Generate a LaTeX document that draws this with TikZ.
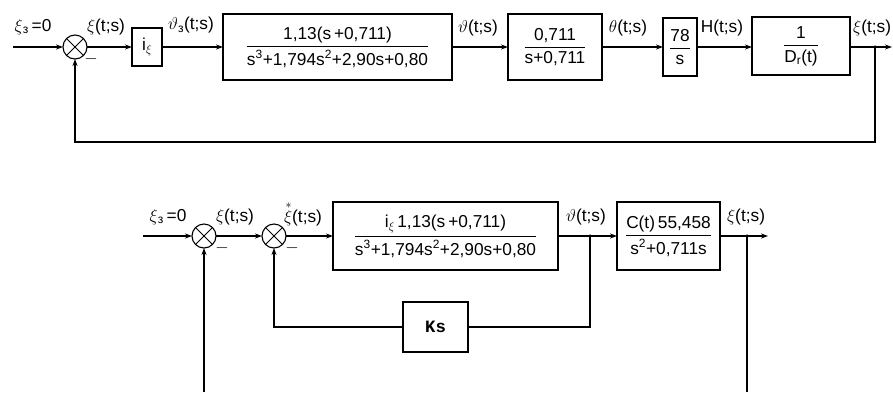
\documentclass[tikz,border=0pt]{standalone}
\usepackage{fontspec}
\setmainfont{Liberation Sans}
\newfontfamily\monof{Liberation Mono}
\usetikzlibrary{arrows.meta}
\newcommand{\myfrac}[2]{$\displaystyle{\mbox{#1}\above1.1pt\mbox{#2}}$}
\newcommand{\ixi}{i\raisebox{-3.5pt}{\fontsize{12.5}{13}\selectfont$\xi$}}
\begin{document}
\begin{tikzpicture}[x=1pt,y=-1pt,
  every node/.style={font=\fontsize{17.28}{20}\selectfont, inner sep=0pt, outer sep=0pt},
  blk/.style={draw, line width=1.1pt, rectangle},
  sumn/.style={draw, circle, line width=1.1pt, minimum size=24pt,
    path picture={\draw[line width=0.9pt]
      (path picture bounding box.north west) -- (path picture bounding box.south east)
      (path picture bounding box.north east) -- (path picture bounding box.south west);}},
  ln/.style={line width=1.1pt},
  arr/.style={line width=1.1pt, -{Stealth[length=7pt,width=5pt]}},
  tapdot/.style={circle, fill, minimum size=3.5pt}
]
\useasboundingbox (0,0) rectangle (893,392);

% ---------- top diagram ----------
\coordinate (in1) at (13,47);
\node[sumn] (s1) at (75,47) {};
\node[blk, minimum width=30pt, minimum height=38pt] (ki) at (147,47) {\ixi};
\node[blk, minimum width=229pt, minimum height=66pt] (b1) at (337.5,47)
  {\myfrac{1,13(s\,+0,711)}{s\textsuperscript{3}+1,794s\textsuperscript{2}+2,90s+0,80}};
\node[blk, minimum width=94pt, minimum height=66pt] (b2) at (555,47)
  {\myfrac{0,711}{s+0,711}};
\node[blk, minimum width=34pt, minimum height=58pt] (b3) at (680,47)
  {\myfrac{78}{s}};
\node[blk, minimum width=98pt, minimum height=58pt] (b4) at (801,46)
  {\myfrac{\ 1\ }{D\textsubscript{r}(t)}};
\node[tapdot] (t1) at (875,47) {};
\coordinate (out1) at (892,47);
\coordinate (f1a) at (875,142);
\coordinate (f1b) at (75,142);

\draw[arr] (in1) -- (s1);
\draw[arr] (s1) -- (ki);
\draw[arr] (ki) -- (b1);
\draw[arr] (b1) -- (b2);
\draw[arr] (b2) -- (b3);
\draw[arr] (b3.east) -- (b4.west |- b3.east);
\draw[arr] (b4.east |- t1) -- (out1);
\draw[arr] (t1.center) -- (f1a) -- (f1b) -- (s1);

\node (l1) at (33,27) {$\xi$\textsubscript{з}\,=0};
\node (l2) at (106,27) {$\xi$(t;s)};
\node (l3) at (191,25) {$\vartheta$\textsubscript{з}(t;s)};
\node (l4) at (478,28) {$\vartheta$(t;s)};
\node (l5) at (628,28) {$\theta$(t;s)};
\node (l6) at (722,28) {H(t;s)};
\node[anchor=east] (l7) at (891,28) {$\xi$(t;s)};
\node (m1) at (91,59) {$-$};

% ---------- bottom diagram ----------
\coordinate (in2) at (143,236);
\node[sumn] (s2) at (204,236) {};
\node[sumn] (s3) at (274,236) {};
\node[blk, minimum width=225pt, minimum height=68pt] (c1) at (445.5,236)
  {\myfrac{\ixi\,1,13(s\,+0,711)}{s\textsuperscript{3}+1,794s\textsuperscript{2}+2,90s+0,80}};
\node[tapdot] (t2) at (590,236) {};
\node[blk, minimum width=103pt, minimum height=68pt] (c2) at (668.5,236)
  {\myfrac{C(t)\,55,458}{s\textsuperscript{2}+0,711s}};
\node[tapdot] (t3) at (747,236) {};
\coordinate (out2) at (768,236);
\node[blk, minimum width=65pt, minimum height=50pt] (ks) at (435.5,327) {\monof\bfseries Ks};
\coordinate (k1) at (590,327);
\coordinate (k2) at (274,327);
\coordinate (f2a) at (747,392);
\coordinate (f2b) at (204,392);

\draw[arr] (in2) -- (s2);
\draw[arr] (s2) -- (s3);
\draw[arr] (s3) -- (c1);
\draw[arr] (c1) -- (c2);
\draw[arr] (c2) -- (out2);
\draw[ln] (t2.center) -- (k1) -- (ks);
\draw[arr] (ks) -- (k2) -- (s3);
\draw[ln] (t3.center) -- (f2a);
\draw[arr] (f2b) -- (s2);

\node (n1) at (168,217) {$\xi$\textsubscript{з}\,=0};
\node (n2) at (235,217) {$\xi$(t;s)};
\node (n3) at (303,214) {$\stackrel{*}{\xi}$(t;s)};
\node (n4) at (586,217) {$\vartheta$(t;s)};
\node (n5) at (746,217) {$\xi$(t;s)};
\node (m2) at (222,248) {$-$};
\node (m3) at (292,248) {$-$};
\end{tikzpicture}
\end{document}
